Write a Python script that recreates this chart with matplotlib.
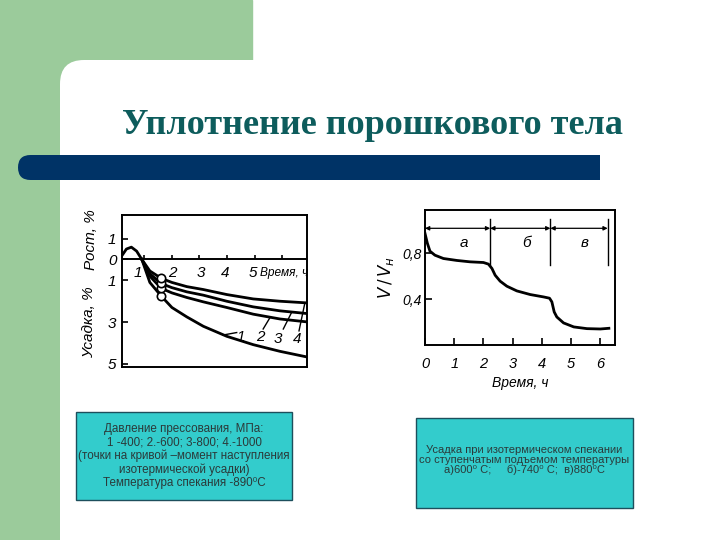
import matplotlib
matplotlib.use('Agg')
import matplotlib.pyplot as plt
from matplotlib.patches import FancyBboxPatch, Rectangle

# ---------------- data ----------------
# left chart: growth (+) / shrinkage (-), %, vs time, h
common_time = [0.19, 0.35, 0.53, 0.72, 0.91]
common_vals = [0.19, 0.5, 0.59, 0.4, 0.0]
curve_time = [1.2, 1.61, 2.0, 2.54, 3.14, 3.99, 4.95, 5.92, 6.9]
shrink_1 = [-1.1, -1.75, -2.3, -2.75, -3.2, -3.68, -4.08, -4.4, -4.67]
shrink_2 = [-0.8, -1.38, -1.6, -1.82, -2.03, -2.3, -2.62, -2.85, -2.99]
shrink_3 = [-0.68, -1.15, -1.35, -1.55, -1.71, -2.0, -2.27, -2.46, -2.59]
shrink_4 = [-0.55, -0.9, -1.1, -1.3, -1.44, -1.68, -1.89, -2.0, -2.08]
curve_names = ['1', '2', '3', '4']
iso_time = 1.61
iso_vals = [-1.75, -1.38, -1.15, -0.9]
left_yticks = [1, 0, -1, -3, -5]
left_yticklabels = ['1', '0', '1', '3', '5']
left_xticks = [1, 2, 3, 4, 5, 6]
left_xticklabels = ['1', '2', '3', '4', '5']

# right chart: V/Vн vs time, h
vol_time = [0, 0.08, 0.17, 0.34, 0.63, 1.09, 1.54, 2.0, 2.17, 2.29, 2.4, 2.57,
            2.8, 3.14, 3.6, 4.06, 4.26, 4.34, 4.42, 4.51, 4.74, 5.09, 5.54, 6.0, 6.29]
vol_ratio = [0.975, 0.89, 0.82, 0.785, 0.756, 0.739, 0.727, 0.721, 0.707, 0.669,
             0.61, 0.558, 0.514, 0.473, 0.441, 0.42, 0.409, 0.377, 0.289, 0.245,
             0.193, 0.158, 0.143, 0.14, 0.146]
stage_bounds = [0, 2.23, 4.29, 6.25]
stage_names = ['а', 'б', 'в']
right_yticks = [0.4, 0.8]
right_yticklabels = ['0,4', '0,8']
right_xticks = [0, 1, 2, 3, 4, 5, 6]

title = 'Уплотнение порошкового тела'
left_box_text = ('Давление прессования, МПа:\n'
                 '1 -400; 2.-600; 3-800; 4.-1000\n'
                 '(точки на кривой –момент наступления\n'
                 'изотермической усадки)\n'
                 'Температура спекания -890⁰С')
right_box_text = ('Усадка при изотермическом спекании\n'
                  'со ступенчатым подъемом температуры\n'
                  'а)600⁰ С;     б)-740⁰ С;  в)880⁰С')

# ---------------- figure ----------------
W, H = 720, 540
fig = plt.figure(figsize=(7.2, 5.4), dpi=100)
bg = fig.add_axes([0, 0, 1, 1])
bg.set_xlim(0, W)
bg.set_ylim(H, 0)
bg.axis('off')

GREEN = '#9bcb9b'
bg.add_patch(Rectangle((0, 0), 252, 85, color=GREEN, zorder=0))
bg.add_patch(Rectangle((0, 0), 60, H, color=GREEN, zorder=0))
bg.add_patch(FancyBboxPatch((60, 60), 800, 600,
                            boxstyle='round,pad=0,rounding_size=24',
                            facecolor='white', edgecolor='none', zorder=1))
BLUE = '#003366'
bg.add_patch(FancyBboxPatch((18, 155), 582, 25,
                            boxstyle='round,pad=0,rounding_size=12.5',
                            facecolor=BLUE, edgecolor='none', zorder=2))
bg.add_patch(Rectangle((560, 155), 40, 25, facecolor=BLUE, edgecolor='none', zorder=2))

bg.text(373, 125, title, fontsize=26, family=['Liberation Serif', 'DejaVu Serif'],
        weight='bold', color='#0d5c5c', ha='center', va='center', zorder=3)

BOX = '#33cccc'
bg.add_patch(Rectangle((76, 412), 216, 88, facecolor=BOX, edgecolor='#1d4f5c',
                       lw=1.0, zorder=2))
bg.text(184, 456, left_box_text, fontsize=8.4, family=['Liberation Sans', 'DejaVu Sans'],
        color='#2b3a3a', ha='center', va='center', linespacing=1.15, zorder=3)
bg.add_patch(Rectangle((416, 418), 217, 90, facecolor=BOX, edgecolor='#1d4f5c',
                       lw=1.0, zorder=2))
bg.text(524, 460, right_box_text, fontsize=8.0, family=['Liberation Sans', 'DejaVu Sans'],
        color='#2b3a3a', ha='center', va='center', linespacing=1.0, zorder=3)

HAND = dict(family=['Liberation Sans Narrow', 'Liberation Sans', 'DejaVu Sans'],
            style='italic')
bg.text(91, 240, 'Рост, %', rotation=90, fontsize=11, ha='center', va='center',
        zorder=3, **HAND)
bg.text(89, 322, 'Усадка, %', rotation=90, fontsize=11, ha='center', va='center',
        zorder=3, **HAND)

# ---------------- left chart ----------------
axl = fig.add_axes([122 / W, (H - 367) / H, 185 / W, 152 / H])
axl.set_zorder(5)
axl.set_xlim(0.19, 6.9)
axl.set_ylim(-5.15, 2.13)
for s in axl.spines.values():
    s.set_linewidth(1.4)
axl.axhline(0, color='black', lw=1.4)
axl.set_xticks([])
axl.set_yticks(left_yticks)
axl.set_yticklabels(left_yticklabels, fontsize=11, **HAND)
axl.tick_params(axis='y', direction='in', length=4, width=1.2, pad=4)

axl.plot(common_time, common_vals, color='black', lw=2.0, solid_capstyle='round')
for vals in (shrink_1, shrink_2, shrink_3, shrink_4):
    axl.plot([common_time[-1]] + curve_time, [common_vals[-1]] + vals,
             color='black', lw=2.0, solid_joinstyle='round')
axl.plot([iso_time] * len(iso_vals), iso_vals, 'o', ms=6, mfc='white', mec='black',
         mew=1.2, zorder=4)

axl.vlines(left_xticks, 0, 0.22, color='black', lw=1.2)
label_shift = [-0.22, 0.02, 0.05, -0.08, -0.06]
for t, lab, dx in zip(left_xticks, left_xticklabels, label_shift):
    axl.text(t + dx, -0.67, lab, fontsize=11, ha='center', va='center', **HAND)
axl.text(5.2, -0.67, 'Время, ч', fontsize=8.6, ha='left', va='center', **HAND)

leaders = [((3.85, -3.62), (4.35, -3.5), (4.5, -3.72)),
           ((5.55, -2.8), (5.31, -3.33), (5.19, -3.72)),
           ((6.34, -2.54), (6.04, -3.33), (5.86, -3.8)),
           ((6.82, -2.1), (6.61, -3.42), (6.55, -3.8))]
for name, (p0, p1, lp) in zip(curve_names, leaders):
    axl.plot([p0[0], p1[0]], [p0[1], p1[1]], color='black', lw=1.0)
    axl.text(lp[0], lp[1], name, fontsize=11, ha='center', va='center', **HAND)

# ---------------- right chart ----------------
axr = fig.add_axes([425 / W, (H - 345) / H, 190 / W, 135 / H])
axr.set_zorder(5)
axr.set_xlim(0, 6.5)
axr.set_ylim(0, 1.18)
for s in axr.spines.values():
    s.set_linewidth(1.4)
axr.plot(vol_time, vol_ratio, color='black', lw=2.0)
axr.set_yticks(right_yticks)
axr.set_yticklabels(right_yticklabels, fontsize=10, **HAND)
axr.set_xticks(right_xticks)
axr.set_xticklabels([str(t) for t in right_xticks], fontsize=10.5, **HAND)
axr.tick_params(axis='y', direction='in', length=5, width=1.2, pad=2)
axr.tick_params(axis='x', direction='in', length=5, width=1.2, pad=9)
axr.set_xlabel('Время, ч', fontsize=10, labelpad=3, **HAND)
axr.set_ylabel('$V\\,/\\,V_{н}$', fontsize=12, labelpad=5)

for b in stage_bounds[1:]:
    axr.plot([b, b], [0.7, 1.1], color='black', lw=1.0)
for a, b, name in zip(stage_bounds[:-1], stage_bounds[1:], stage_names):
    axr.annotate('', xy=(a, 1.02), xytext=(b, 1.02),
                 arrowprops=dict(arrowstyle='<|-|>', color='black', lw=0.9,
                                 mutation_scale=6, shrinkA=0, shrinkB=0))
    axr.text((a + b) / 2 + 0.2, 0.89, name, fontsize=11, ha='center', va='center', **HAND)

fig.savefig('out.png', dpi=100)
